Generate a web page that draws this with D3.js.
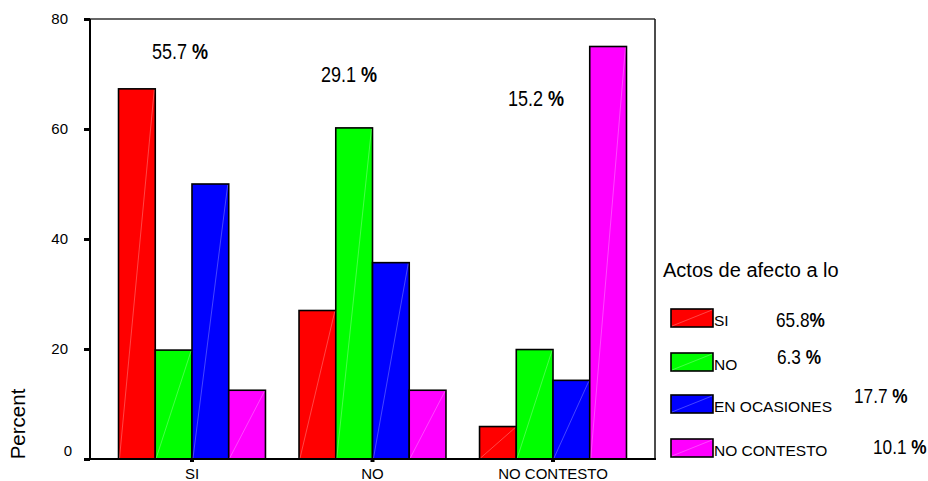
<!DOCTYPE html>
<html>
<head>
<meta charset="utf-8">
<script src="https://cdn.jsdelivr.net/npm/d3@7"></script>
<style>
  html, body { margin: 0; padding: 0; background: #fff; }
  svg { display: block; font-family: "Liberation Sans", Arial, sans-serif; }
</style>
</head>
<body>
<svg id="chart" width="928" height="481"></svg>
<script>
// ---- data ----
const categories = ["SI", "NO", "NO CONTESTO"];
const series = ["SI", "NO", "EN OCASIONES", "NO CONTESTO"];
const colors = ["#ff0000", "#00ff00", "#0000ff", "#ff00ff"];
const valuesSI = [67.3, 27.0, 5.9];
const valuesNO = [19.8, 60.2, 19.9];
const valuesEnOcasiones = [50.0, 35.7, 14.3];
const valuesNoContesto = [12.5, 12.5, 75.0];
const yTicks = [0, 20, 40, 60, 80];
const groupPct = ["55.7", "29.1", "15.2"];
const legendPct = ["65.8", "6.3", "17.7", "10.1"];
const legendPctSpace = ["", " ", " ", " "];
const legendTitle = "Actos de afecto a lo";
const yTitle = "Percent";

const seriesValues = [valuesSI, valuesNO, valuesEnOcasiones, valuesNoContesto];

// ---- layout ----
const svg = d3.select("#chart");
const L = 90, R = 655, T = 19, B = 459;

const x0 = d3.scaleBand().domain(categories).range([L, R])
  .paddingInner(0.186).paddingOuter(0.158);
const x1 = d3.scaleBand().domain(series).range([0, x0.bandwidth()]).padding(0);
const y = d3.scaleLinear().domain([0, 80]).range([B, T]);
const color = d3.scaleOrdinal().domain(series).range(colors);

// bars
const rows = [];
categories.forEach((c, ci) => {
  series.forEach((s, si) => rows.push({ cat: c, ser: s, v: seriesValues[si][ci] }));
});

const bars = svg.append("g");
bars.selectAll("rect").data(rows).join("rect")
  .attr("x", d => x0(d.cat) + x1(d.ser))
  .attr("y", d => y(d.v))
  .attr("width", x1.bandwidth())
  .attr("height", d => y(0) - y(d.v))
  .attr("fill", d => color(d.ser))
  .attr("stroke", "#000")
  .attr("stroke-width", 1.6);
bars.selectAll("line").data(rows).join("line")
  .attr("x1", d => x0(d.cat) + x1(d.ser) + 1)
  .attr("y1", y(0) - 1)
  .attr("x2", d => x0(d.cat) + x1(d.ser) + x1.bandwidth() - 1)
  .attr("y2", d => y(d.v) + 1)
  .attr("stroke", "#fff").attr("stroke-opacity", 0.35).attr("stroke-width", 0.8);

// frame top/right
svg.append("line").attr("x1", L).attr("x2", R).attr("y1", T).attr("y2", T)
  .attr("stroke", "#333").attr("stroke-width", 1.5);
svg.append("line").attr("x1", R).attr("x2", R).attr("y1", T).attr("y2", B)
  .attr("stroke", "#111").attr("stroke-width", 1.5);

// y axis
const yAxis = svg.append("g").attr("transform", `translate(${L},0)`)
  .call(d3.axisLeft(y).tickValues(yTicks).tickSize(6).tickPadding(16).tickFormat(d3.format("d")));
yAxis.select(".domain").remove();
yAxis.selectAll(".tick line").attr("stroke", "#000").attr("stroke-width", 3);
yAxis.selectAll(".tick text").attr("font-size", 15).attr("fill", "#000")
  .attr("font-family", "Liberation Sans, Arial, sans-serif");
yAxis.selectAll(".tick").filter(d => d === 0).select("text")
  .attr("dy", "-0.25em").attr("x", -18);

// x axis
const xAxis = svg.append("g").attr("transform", `translate(0,${B})`)
  .call(d3.axisBottom(x0).tickSize(3).tickPadding(6));
xAxis.select(".domain").remove();
xAxis.selectAll(".tick line").attr("stroke", "#000").attr("stroke-width", 4);
xAxis.selectAll(".tick text").attr("font-size", 15).attr("fill", "#000")
  .attr("font-family", "Liberation Sans, Arial, sans-serif");

// left & bottom axis lines
svg.append("line").attr("x1", L).attr("x2", L).attr("y1", T).attr("y2", B + 1)
  .attr("stroke", "#000").attr("stroke-width", 2);
svg.append("line").attr("x1", L - 1).attr("x2", R + 1).attr("y1", B).attr("y2", B)
  .attr("stroke", "#000").attr("stroke-width", 2);

// y title
svg.append("text").attr("transform", "translate(25,424) rotate(-90)")
  .attr("text-anchor", "middle").attr("font-size", 20.5).text(yTitle);

// narrow annotation helper
function narrow(g, x, yy, num, sep, size) {
  const t = g.append("text").attr("transform", `translate(${x},${yy}) scale(0.82,1)`)
    .attr("font-size", size).attr("fill", "#000");
  t.append("tspan").text(num + sep);
  t.append("tspan").attr("font-weight", "bold").text("%");
  return t;
}

// group annotations
const groupPos = [[152, 59], [321, 82], [508, 106]];
const ann = svg.append("g");
groupPct.forEach((p, i) => narrow(ann, groupPos[i][0], groupPos[i][1], p, " ", 22));

// legend
const lg = svg.append("g");
lg.append("text").attr("x", 663).attr("y", 277).attr("font-size", 20).text(legendTitle);
const swTop = [309, 353, 395, 439];
series.forEach((s, i) => {
  const g = lg.append("g");
  g.append("rect").attr("x", 671).attr("y", swTop[i]).attr("width", 42).attr("height", 18)
    .attr("fill", color(s)).attr("stroke", "#000").attr("stroke-width", 1.6);
  g.append("line").attr("x1", 672).attr("y1", swTop[i] + 17).attr("x2", 712).attr("y2", swTop[i] + 1)
    .attr("stroke", "#fff").attr("stroke-opacity", 0.35).attr("stroke-width", 0.8);
  g.append("text").attr("x", 714).attr("y", swTop[i] + 17).attr("font-size", 15.5).text(s);
});
const legendPctPos = [[776, 327], [777, 364], [854, 403], [873, 454]];
legendPct.forEach((p, i) => narrow(lg, legendPctPos[i][0], legendPctPos[i][1], p, legendPctSpace[i], 21));
</script>
</body>
</html>
